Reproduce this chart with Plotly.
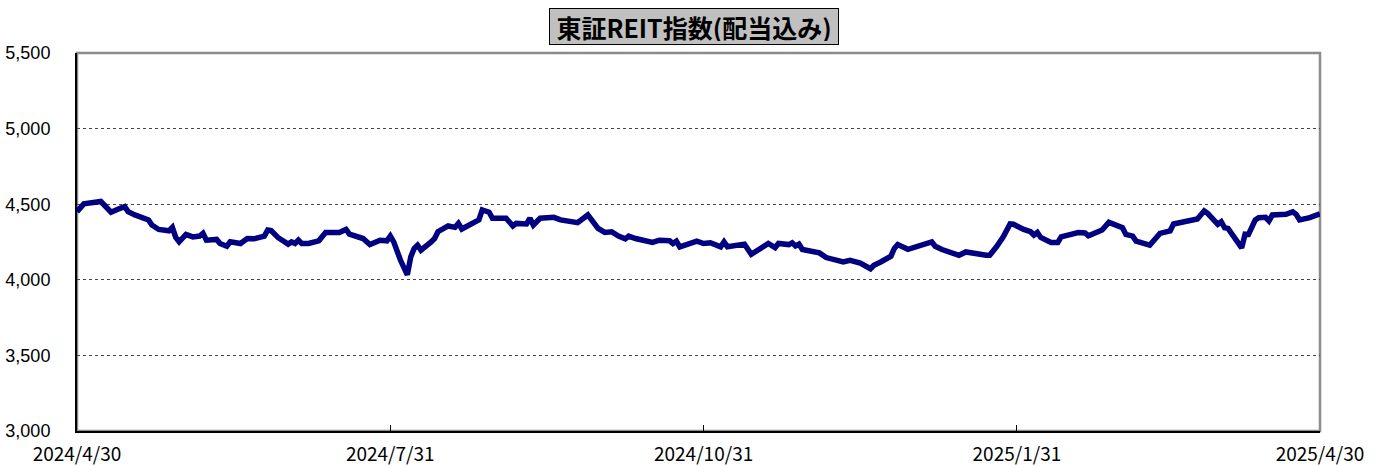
import plotly.graph_objects as go

title_text = "東証REIT指数(配当込み)"

dates = [
    "2024-04-30", "2024-05-02", "2024-05-07", "2024-05-08", "2024-05-10", "2024-05-12", "2024-05-14", "2024-05-15",
    "2024-05-17", "2024-05-21", "2024-05-22", "2024-05-24", "2024-05-27", "2024-05-28", "2024-05-29", "2024-05-30",
    "2024-06-01", "2024-06-03", "2024-06-05", "2024-06-06", "2024-06-07", "2024-06-10", "2024-06-11", "2024-06-13",
    "2024-06-14", "2024-06-17", "2024-06-19", "2024-06-21", "2024-06-24", "2024-06-25", "2024-06-26", "2024-06-28",
    "2024-06-29", "2024-07-01", "2024-07-02", "2024-07-03", "2024-07-04", "2024-07-05", "2024-07-07", "2024-07-09",
    "2024-07-10", "2024-07-12", "2024-07-16", "2024-07-18", "2024-07-19", "2024-07-23", "2024-07-25", "2024-07-28",
    "2024-07-30", "2024-07-31", "2024-08-01", "2024-08-03", "2024-08-05", "2024-08-06", "2024-08-07", "2024-08-08",
    "2024-08-09", "2024-08-12", "2024-08-13", "2024-08-14", "2024-08-17", "2024-08-19", "2024-08-20", "2024-08-21",
    "2024-08-23", "2024-08-26", "2024-08-27", "2024-08-29", "2024-08-30", "2024-09-03", "2024-09-05", "2024-09-06",
    "2024-09-09", "2024-09-10", "2024-09-11", "2024-09-13", "2024-09-17", "2024-09-19", "2024-09-24", "2024-09-27",
    "2024-09-30", "2024-10-02", "2024-10-04", "2024-10-06", "2024-10-08", "2024-10-09", "2024-10-11", "2024-10-16",
    "2024-10-18", "2024-10-21", "2024-10-22", "2024-10-23", "2024-10-24", "2024-10-28", "2024-10-29", "2024-10-31",
    "2024-11-02", "2024-11-05", "2024-11-06", "2024-11-07", "2024-11-12", "2024-11-14", "2024-11-16", "2024-11-19",
    "2024-11-21", "2024-11-22", "2024-11-25", "2024-11-26", "2024-11-27", "2024-11-28", "2024-11-29", "2024-12-02",
    "2024-12-04", "2024-12-06", "2024-12-09", "2024-12-11", "2024-12-13", "2024-12-16", "2024-12-19", "2024-12-20",
    "2024-12-22", "2024-12-25", "2024-12-26", "2024-12-27", "2024-12-30", "2025-01-01", "2025-01-06", "2025-01-07",
    "2025-01-09", "2025-01-14", "2025-01-16", "2025-01-22", "2025-01-23", "2025-01-25", "2025-01-27", "2025-01-29",
    "2025-01-30", "2025-02-02", "2025-02-04", "2025-02-05", "2025-02-06", "2025-02-07", "2025-02-10", "2025-02-12",
    "2025-02-13", "2025-02-18", "2025-02-20", "2025-02-21", "2025-02-24", "2025-02-25", "2025-02-27", "2025-02-28",
    "2025-03-03", "2025-03-04", "2025-03-06", "2025-03-07", "2025-03-11", "2025-03-14", "2025-03-17", "2025-03-18",
    "2025-03-22", "2025-03-25", "2025-03-27", "2025-03-28", "2025-03-31", "2025-04-01", "2025-04-02", "2025-04-03",
    "2025-04-07", "2025-04-08", "2025-04-09", "2025-04-11", "2025-04-12", "2025-04-14", "2025-04-15", "2025-04-16",
    "2025-04-20", "2025-04-22", "2025-04-23", "2025-04-24", "2025-04-27", "2025-04-30",
]

values = [
    4450, 4502, 4518, 4490, 4447, 4467, 4484, 4451,
    4429, 4396, 4362, 4333, 4324, 4347, 4280, 4251,
    4300, 4284, 4289, 4307, 4262, 4267, 4240, 4222,
    4251, 4240, 4273, 4271, 4289, 4329, 4325, 4280,
    4267, 4236, 4251, 4240, 4262, 4240, 4240, 4258,
    4258, 4313, 4313, 4333, 4302, 4273, 4233, 4262,
    4258, 4289, 4251, 4129, 4033, 4151, 4207, 4229,
    4196, 4251, 4273, 4318, 4356, 4347, 4373, 4336,
    4356, 4396, 4462, 4447, 4407, 4407, 4356, 4373,
    4369, 4407, 4362, 4407, 4413, 4396, 4378, 4429,
    4340, 4313, 4318, 4289, 4271, 4289, 4273, 4247,
    4262, 4258, 4240, 4255, 4218, 4251, 4256, 4240,
    4245, 4218, 4251, 4218, 4236, 4169, 4200, 4240,
    4213, 4240, 4233, 4245, 4224, 4236, 4200, 4189,
    4178, 4147, 4129, 4118, 4129, 4111, 4073, 4096,
    4118, 4156, 4207, 4233, 4202, 4218, 4251, 4222,
    4200, 4162, 4184, 4162, 4162, 4218, 4284, 4369,
    4367, 4333, 4318, 4296, 4313, 4280, 4247, 4247,
    4284, 4313, 4310, 4291, 4313, 4329, 4380, 4373,
    4344, 4300, 4289, 4256, 4229, 4307, 4324, 4369,
    4391, 4402, 4456, 4440, 4367, 4384, 4344, 4340,
    4211, 4302, 4300, 4396, 4411, 4413, 4389, 4429,
    4433, 4449, 4433, 4396, 4411, 4436,
]

x_tick_vals = ["2024-04-30", "2024-07-31", "2024-10-31", "2025-01-31", "2025-04-30"]
x_tick_text = ["2024/4/30", "2024/7/31", "2024/10/31", "2025/1/31", "2025/4/30"]
y_tick_vals = [3000, 3500, 4000, 4500, 5000, 5500]

fig = go.Figure()
fig.add_trace(go.Scatter(
    x=dates, y=values, mode="lines",
    line=dict(color="#000080", width=5.5),
    showlegend=False, hoverinfo="skip",
))

# plot area border (gray top/right)
fig.add_shape(type="rect", xref="paper", yref="paper", x0=0, x1=1, y0=0, y1=1,
              line=dict(color="#8c8c8c", width=2.5), layer="below")

fig.update_layout(
    width=1377, height=465,
    margin=dict(l=77, r=57, t=53, b=34),
    paper_bgcolor="white", plot_bgcolor="white",
    showlegend=False,
    annotations=[dict(
        text="<b>" + title_text + "</b>",
        xref="paper", yref="paper", x=0.4964, y=1, yshift=8,
        xanchor="center", yanchor="bottom", showarrow=False,
        width=282, height=29,
        font=dict(family="Noto Sans CJK JP", size=25, color="black"),
        bgcolor="#c0c0c0", bordercolor="black", borderwidth=1, borderpad=3,
    )],
)

fig.update_xaxes(
    type="date",
    range=["2024-04-30", "2025-04-30"],
    tickmode="array", tickvals=x_tick_vals, ticktext=x_tick_text,
    ticks="inside", ticklen=6, tickcolor="black", tickwidth=1,
    showgrid=False, zeroline=False, automargin=False,
    showline=True, linecolor="black", linewidth=2,
    tickfont=dict(family="Noto Sans CJK JP", size=19, color="black"),
    ticklabelstandoff=5,
)
fig.update_yaxes(
    range=[3000, 5500],
    tickmode="array", tickvals=y_tick_vals, tickformat=",",
    ticks="", showgrid=True, gridcolor="#444444", gridwidth=1, griddash="dot",
    zeroline=False, automargin=False,
    showline=True, linecolor="black", linewidth=2,
    tickfont=dict(family="Liberation Sans", size=18, color="black"),
    ticklabelstandoff=21,
)

fig.write_html(
    "out.html",
    config={"displayModeBar": False},
    post_script="document.body.style.margin='0px';document.body.style.overflow='hidden';",
)
